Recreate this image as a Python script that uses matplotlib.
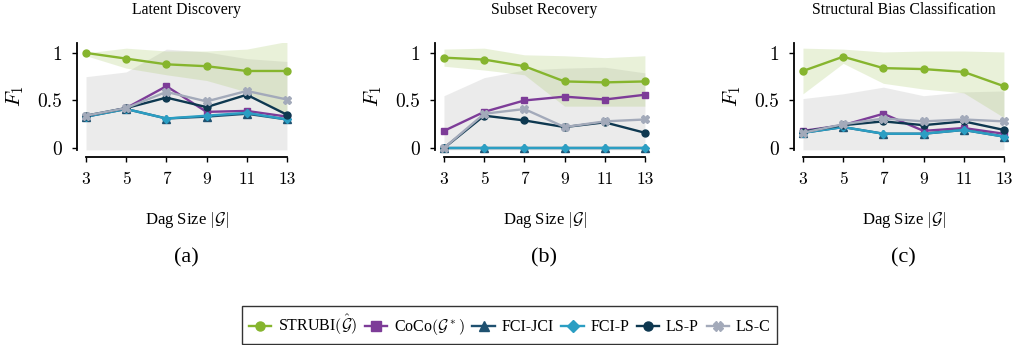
import numpy as np
import matplotlib
matplotlib.use('Agg')
import matplotlib.pyplot as plt

plt.rcParams['font.family'] = 'Liberation Serif'
plt.rcParams['mathtext.fontset'] = 'cm'

# data
dag_sizes = [3, 5, 7, 9, 11, 13]
titles = ['Latent Discovery', 'Subset Recovery', 'Structural Bias Classification']
panel_tags = ['(a)', '(b)', '(c)']

strubi = [
    [1.00, 0.94, 0.88, 0.86, 0.81, 0.81],
    [0.95, 0.93, 0.86, 0.70, 0.69, 0.70],
    [0.81, 0.96, 0.84, 0.83, 0.80, 0.65],
]
strubi_lo = [
    [0.97, 0.84, 0.77, 0.71, 0.59, 0.35],
    [0.86, 0.82, 0.77, 0.44, 0.44, 0.44],
    [0.57, 0.89, 0.68, 0.62, 0.58, 0.32],
]
strubi_hi = [
    [1.00, 1.05, 1.02, 1.02, 1.04, 1.12],
    [1.04, 1.05, 0.98, 0.97, 0.95, 0.97],
    [1.05, 1.04, 1.01, 1.02, 1.02, 1.01],
]
coco = [
    [0.33, 0.42, 0.65, 0.38, 0.39, 0.33],
    [0.18, 0.38, 0.50, 0.54, 0.51, 0.56],
    [0.18, 0.24, 0.36, 0.18, 0.21, 0.15],
]
fci_jci = [
    [0.33, 0.41, 0.31, 0.33, 0.36, 0.30],
    [0.00, 0.00, 0.00, 0.00, 0.00, 0.00],
    [0.16, 0.22, 0.15, 0.15, 0.19, 0.12],
]
fci_p = [
    [0.33, 0.41, 0.31, 0.34, 0.37, 0.30],
    [0.00, 0.00, 0.00, 0.00, 0.00, 0.00],
    [0.16, 0.22, 0.15, 0.15, 0.19, 0.12],
]
ls_p = [
    [0.34, 0.42, 0.53, 0.43, 0.56, 0.35],
    [0.00, 0.34, 0.29, 0.22, 0.27, 0.16],
    [0.17, 0.24, 0.28, 0.24, 0.28, 0.19],
]
ls_c = [
    [0.34, 0.42, 0.59, 0.49, 0.60, 0.51],
    [0.00, 0.36, 0.41, 0.22, 0.28, 0.30],
    [0.16, 0.25, 0.31, 0.28, 0.30, 0.28],
]
base_lo = [
    [-0.02, -0.02, -0.02, -0.02, -0.02, -0.02],
    [-0.02, -0.02, -0.02, -0.02, -0.02, -0.02],
    [-0.02, -0.02, -0.02, -0.02, -0.02, -0.02],
]
base_hi = [
    [0.75, 0.80, 1.04, 1.01, 0.94, 0.91],
    [0.55, 0.74, 0.82, 0.84, 0.85, 0.79],
    [0.52, 0.57, 0.64, 0.55, 0.59, 0.60],
]

series = [
    ('STRUBI' + r'$(\hat{\mathcal{G}})$', strubi, '#86b52e', 'o'),
    (r'CoCo$(\mathcal{G}^*)$', coco, '#7d3c98', 's'),
    ('FCI-JCI', fci_jci, '#1f5170', '^'),
    ('FCI-P', fci_p, '#2b9ec3', 'D'),
    ('LS-P', ls_p, '#0e3850', 'o'),
    ('LS-C', ls_c, '#a3aaba', 'X'),
]

fig = plt.figure(figsize=(10.19, 3.45), dpi=100)
lefts = [0.0844, 0.4357, 0.788]
handles = []
for i in range(3):
    ax = fig.add_axes([lefts[i], 0.5655, 0.1972, 0.3087])
    ax.fill_between(dag_sizes, base_lo[i], base_hi[i], color='#d4d4d4', alpha=0.45, lw=0)
    ax.fill_between(dag_sizes, strubi_lo[i], strubi_hi[i], color='#a9c96b', alpha=0.25, lw=0)
    for label, vals, col, mk in series:
        ms = 5 if mk in ('o', 's') else 5.5
        if mk == 'D':
            ms = 4.5
        h, = ax.plot(dag_sizes, vals[i], color=col, marker=mk, ms=ms, lw=1.7, label=label,
                     clip_on=False)
        if i == 0:
            handles.append(h)
    ax.set_xlim(3, 13)
    ax.set_ylim(-0.02, 1.1)
    ax.set_xticks(dag_sizes)
    ax.set_xticklabels([str(d) for d in dag_sizes])
    ax.set_yticks([0, 0.5, 1])
    ax.set_yticklabels(['0', '0.5', '1'])
    for s in ['top', 'right']:
        ax.spines[s].set_visible(False)
    ax.spines['left'].set_position(('outward', 6.5))
    ax.spines['bottom'].set_position(('outward', 5))
    ax.spines['left'].set_linewidth(1.3)
    ax.spines['bottom'].set_linewidth(1.3)
    ax.tick_params(axis='x', length=3.5, width=1, pad=7, labelsize=12.5, labelfontfamily='cmr10')
    ax.tick_params(axis='y', length=3.5, width=1, pad=7, labelsize=14, labelfontfamily='cmr10')
    ax.set_ylabel('$F_1$', fontsize=15, labelpad=8)
    ax.set_facecolor('none')
    cx = lefts[i] + 0.1972 / 2
    fig.text(cx, 1 - 10 / 345, titles[i], ha='center', va='center', fontsize=11.3)
    fig.text(cx, 1 - 220 / 345, r'Dag Size $|\mathcal{G}|$', ha='center', va='center', fontsize=12)
    fig.text(cx, 1 - 258 / 345, panel_tags[i], ha='center', va='center', fontsize=16)

leg = fig.legend(handles=handles, loc='center', bbox_to_anchor=(0.5, 1 - 325 / 345), ncol=6,
                 fontsize=11.5, frameon=True, fancybox=False, edgecolor='black', markerscale=1.3,
                 handlelength=1.4, handletextpad=0.4, columnspacing=0.5, borderpad=0.4)
leg.get_frame().set_linewidth(1.0)

fig.savefig('out.png', dpi=100)
